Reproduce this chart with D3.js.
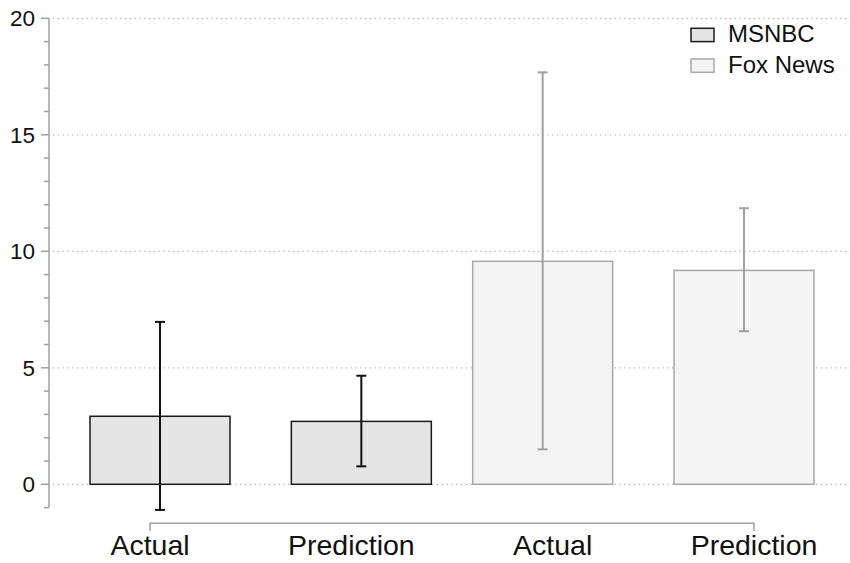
<!DOCTYPE html>
<html><head><meta charset="utf-8">
<script src="https://cdn.jsdelivr.net/npm/d3@7"></script>
<style>body{margin:0;background:#fff}svg{display:block}text{font-family:"Liberation Sans",Arial,sans-serif}</style>
</head><body><svg id="c" width="850" height="563"></svg>
<script>
const categories = ["Actual", "Prediction", "Actual", "Prediction"];
const series = ["MSNBC", "MSNBC", "Fox News", "Fox News"];
const values = [2.92, 2.70, 9.57, 9.18];
const errLow = [-1.1, 0.77, 1.5, 6.57];
const errHigh = [6.97, 4.66, 17.68, 11.85];
const yTicks = [0, 5, 10, 15, 20];
const legendNames = ["MSNBC", "Fox News"];

const style = {
  "MSNBC": {fill: "#e5e5e5", stroke: "#1a1a1a", err: "#111"},
  "Fox News": {fill: "#f4f4f4", stroke: "#a8a8a8", err: "#a0a0a0"}
};
const offset = {"MSNBC": 10, "Fox News": -10};

const svg = d3.select("#c");
const y = d3.scaleLinear().domain([0, 20]).range([484.3, 18.3]);
const idx = d3.range(categories.length);
const x = d3.scalePoint().domain(idx).range([150, 754]);
const barW = 140;

// grid
svg.append("g").selectAll("line").data(yTicks).join("line")
  .attr("x1", 53).attr("x2", 850)
  .attr("y1", d => y(d)).attr("y2", d => y(d))
  .attr("stroke", "#b0b0b0").attr("stroke-width", 1.2)
  .attr("stroke-dasharray", "1.2,3.6");

// y axis
const yAxisG = svg.append("g").attr("transform", "translate(49,0)");
yAxisG.append("line").attr("x1", 0).attr("x2", 0).attr("y1", y(20)).attr("y2", y(-1))
  .attr("stroke", "#a0a0a0").attr("stroke-width", 1.5);
yAxisG.selectAll("line.minor").data(d3.range(-1, 21)).join("line").attr("class", "minor")
  .attr("x1", d => yTicks.includes(d) ? -8 : -5).attr("x2", 0)
  .attr("y1", d => y(d)).attr("y2", d => y(d))
  .attr("stroke", "#a0a0a0").attr("stroke-width", 1.5);
yAxisG.selectAll("text").data(yTicks).join("text")
  .attr("x", -14).attr("y", d => y(d)).attr("dy", "0.36em")
  .attr("text-anchor", "end").attr("font-size", 22.5).attr("fill", "#111")
  .text(d => d);

// bars
svg.append("g").selectAll("rect").data(idx).join("rect")
  .attr("x", i => x(i) + offset[series[i]] - barW / 2)
  .attr("width", barW)
  .attr("y", i => y(values[i]))
  .attr("height", i => y(0) - y(values[i]))
  .attr("fill", i => style[series[i]].fill)
  .attr("stroke", i => style[series[i]].stroke)
  .attr("stroke-width", 1.5);

// error bars
const eg = svg.append("g").selectAll("g").data(idx).join("g");
eg.append("line")
  .attr("x1", i => x(i) + offset[series[i]]).attr("x2", i => x(i) + offset[series[i]])
  .attr("y1", i => y(errLow[i])).attr("y2", i => y(errHigh[i]))
  .attr("stroke", i => style[series[i]].err).attr("stroke-width", 2);
[errLow, errHigh].forEach(arr => {
  eg.append("line")
    .attr("x1", i => x(i) + offset[series[i]] - 5).attr("x2", i => x(i) + offset[series[i]] + 5)
    .attr("y1", i => y(arr[i])).attr("y2", i => y(arr[i]))
    .attr("stroke", i => style[series[i]].err).attr("stroke-width", 2);
});

// x bracket axis
const bx = svg.append("g");
bx.append("path")
  .attr("d", `M${x(0)},531V523.3H${x(3)}V531`)
  .attr("fill", "none").attr("stroke", "#a0a0a0").attr("stroke-width", 1.5);
bx.selectAll("text").data(idx).join("text")
  .attr("x", i => x(i)).attr("y", 555)
  .attr("text-anchor", "middle").attr("font-size", 28.5).attr("fill", "#111")
  .text(i => categories[i]);

// legend
const lg = svg.append("g").selectAll("g").data(legendNames).join("g")
  .attr("transform", (d, i) => `translate(691,${28.3 + i * 30.7})`);
lg.append("rect").attr("width", 23).attr("height", 13.3)
  .attr("fill", d => style[d].fill).attr("stroke", d => style[d].stroke).attr("stroke-width", 1.5);
lg.append("text").attr("x", 37).attr("y", 13.6).attr("font-size", 24).attr("fill", "#111")
  .text(d => d);
</script></body></html>
